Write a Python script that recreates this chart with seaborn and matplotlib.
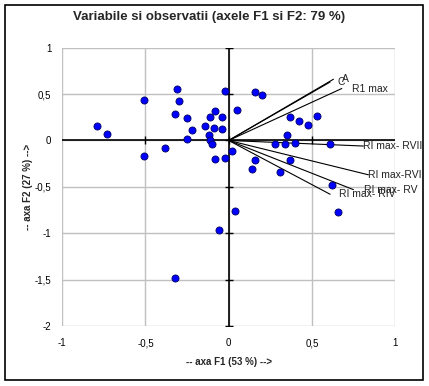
import matplotlib
matplotlib.use("Agg")
import matplotlib.pyplot as plt
from matplotlib.patches import Rectangle
import pandas as pd
import seaborn as sns

# observations (F1, F2)
obs_f1 = [-0.79, -0.73, -0.51, -0.51, -0.31, -0.30, -0.32, -0.25, -0.22, -0.25,
          -0.38, -0.08, -0.11, -0.04, -0.14, -0.09, -0.04, -0.12, -0.11, -0.10,
          -0.02, 0.02, -0.08, -0.02, 0.05, 0.16, 0.20, 0.37, 0.42, 0.48,
          0.53, 0.35, 0.28, 0.34, 0.40, 0.61, 0.16, 0.37, 0.14, 0.31,
          0.62, 0.04, 0.66, -0.06, -0.32]
obs_f2 = [0.16, 0.07, 0.44, -0.17, 0.55, 0.43, 0.29, 0.24, 0.11, 0.02,
          -0.08, 0.32, 0.25, 0.25, 0.16, 0.13, 0.12, 0.06, 0.01, -0.04,
          0.53, -0.11, -0.20, -0.19, 0.33, 0.52, 0.49, 0.25, 0.21, 0.17,
          0.26, 0.06, -0.04, -0.04, -0.03, -0.04, -0.21, -0.21, -0.31, -0.34,
          -0.48, -0.76, -0.77, -0.96, -1.48]

# variables (vectors from origin)
var_names = ["C", "A", "R1 max", "RI max- RVII", "RI max-RVI", "RI max- RV", "RI max- RIV"]
var_f1 = [0.61, 0.63, 0.68, 0.81, 0.84, 0.75, 0.61]
var_f2 = [0.63, 0.66, 0.56, -0.06, -0.37, -0.53, -0.58]

x_ticks = [-1, -0.5, 0, 0.5, 1]
x_labels = ["-1", "-0,5", "0", "0,5", "1"]
y_ticks = [1, 0.5, 0, -0.5, -1, -1.5, -2]
y_labels = ["1", "0,5", "0", "-0,5", "-1", "-1,5", "-2"]

df_obs = pd.DataFrame({"F1": obs_f1, "F2": obs_f2})

sns.set_style("white")
plt.rcParams["font.family"] = ["Liberation Sans", "DejaVu Sans"]

fig = plt.figure(figsize=(4.29, 3.86), dpi=100)
ax = fig.add_axes([62.3 / 429, 60 / 386, 332.7 / 429, 278.3 / 386])

# grid + gray frame
ax.set_xlim(-1, 1)
ax.set_ylim(-2, 1)
for t in x_ticks:
    ax.axvline(t, color="#c0c0c0", lw=1, zorder=0)
for t in y_ticks:
    ax.axhline(t, color="#c0c0c0", lw=1, zorder=0)
for s in ax.spines.values():
    s.set_visible(False)

# black zero axes with small cross ticks
ax.axhline(0, color="black", lw=1.2, zorder=1)
ax.axvline(0, color="black", lw=1.2, zorder=1)
ax.plot(x_ticks[1:-1], [0] * 3, ls="none", marker="|", ms=6, mew=1, color="black", zorder=1)
ax.plot([0] * len(y_ticks), y_ticks, ls="none", marker="_", ms=6, mew=1, color="black", zorder=1)

# variable vectors
label_dx = [7, 9, 10, 0, 0, 11, 9]
for name, vx, vy, dx in zip(var_names, var_f1, var_f2, label_dx):
    ax.plot([0, vx], [0, vy], color="black", lw=0.8, zorder=2)
    ax.annotate(name, (vx, vy), xytext=(dx, 0), textcoords="offset pixels",
                ha="left", va="center", fontsize=7.5, color="#222222",
                annotation_clip=False, zorder=4)

# observations
sns.scatterplot(data=df_obs, x="F1", y="F2", ax=ax, color="#0000ff",
                edgecolor="#000060", linewidth=0.6, s=26, zorder=3, legend=False)

ax.set_xticks(x_ticks)
ax.set_xticklabels(x_labels)
ax.set_yticks(y_ticks)
ax.set_yticklabels(y_labels)
ax.tick_params(axis="x", length=0, labelsize=7, pad=9, colors="black")
ax.tick_params(axis="y", length=0, labelsize=7, pad=8, colors="black")
ax.set_xlabel("-- axa F1 (53 %) -->", fontsize=7, fontweight="bold", labelpad=6)
ax.set_ylabel("-- axa F2 (27 %) -->", fontsize=7, fontweight="bold", labelpad=1)

fig.text(209 / 429, 1 - 17 / 386, "Variabile si observatii (axele F1 si F2: 79 %)",
         ha="center", va="center", fontsize=9.5, fontweight="bold")

fig.patches.append(Rectangle((5 / 429, 6 / 386), 418 / 429, 375 / 386,
                             transform=fig.transFigure, fill=False,
                             ec="black", lw=1.2))

fig.savefig("out.png", dpi=100)
